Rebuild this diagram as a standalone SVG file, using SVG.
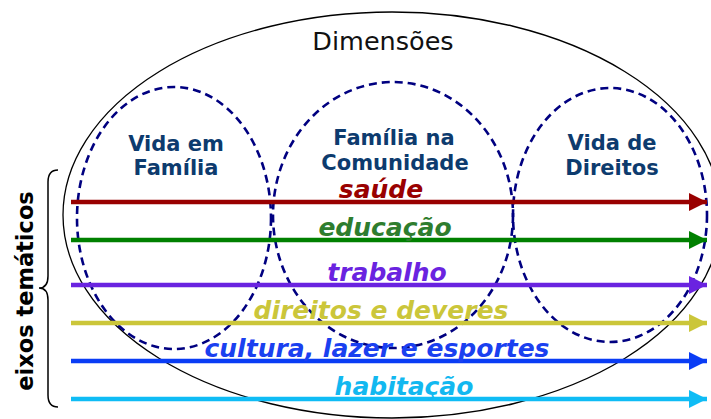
<svg xmlns="http://www.w3.org/2000/svg" width="711" height="419" viewBox="0 0 711 419">
<style>
.dim{font-family:"DejaVu Sans",Verdana,sans-serif;font-size:25.5px;fill:#111;}
.nl{font-family:"DejaVu Sans",Verdana,sans-serif;font-size:21px;font-weight:bold;fill:#0d3b6e;text-anchor:middle;}
.dash{fill:none;stroke:#000080;stroke-width:2.6;stroke-dasharray:8 5;}
.ax{stroke-width:4.5;fill:none;}
.lb{font-family:"DejaVu Sans",Verdana,sans-serif;font-size:25px;font-style:italic;font-weight:bold;text-anchor:middle;}
</style>
<defs>
<marker id="mr" viewBox="0 0 10 10" refX="10" refY="5" markerUnits="userSpaceOnUse" markerWidth="18" markerHeight="18" orient="auto"><path d="M0,0 L10,5 L0,10 Z" fill="#990000"/></marker>
<marker id="mg" viewBox="0 0 10 10" refX="10" refY="5" markerUnits="userSpaceOnUse" markerWidth="18" markerHeight="18" orient="auto"><path d="M0,0 L10,5 L0,10 Z" fill="#008000"/></marker>
<marker id="mp" viewBox="0 0 10 10" refX="10" refY="5" markerUnits="userSpaceOnUse" markerWidth="18" markerHeight="18" orient="auto"><path d="M0,0 L10,5 L0,10 Z" fill="#6a23e0"/></marker>
<marker id="my" viewBox="0 0 10 10" refX="10" refY="5" markerUnits="userSpaceOnUse" markerWidth="18" markerHeight="18" orient="auto"><path d="M0,0 L10,5 L0,10 Z" fill="#cbc63a"/></marker>
<marker id="mb" viewBox="0 0 10 10" refX="10" refY="5" markerUnits="userSpaceOnUse" markerWidth="18" markerHeight="18" orient="auto"><path d="M0,0 L10,5 L0,10 Z" fill="#0a3cf5"/></marker>
<marker id="mc" viewBox="0 0 10 10" refX="10" refY="5" markerUnits="userSpaceOnUse" markerWidth="18" markerHeight="18" orient="auto"><path d="M0,0 L10,5 L0,10 Z" fill="#0fbcf5"/></marker>
</defs>
<rect width="711" height="419" fill="#fff"/>
<g id="dimensoes">
<ellipse cx="392" cy="215" rx="329" ry="203" fill="none" stroke="#000" stroke-width="1.3"/>
<text class="dim" x="383" y="50" text-anchor="middle">Dimensões</text>
</g>
<g id="vida-em-familia">
<ellipse class="dash" cx="174" cy="218" rx="97" ry="131"/>
<text class="nl" x="176" y="151">Vida em</text>
<text class="nl" x="176" y="175">Família</text>
</g>
<g id="familia-na-comunidade">
<ellipse class="dash" cx="393" cy="215" rx="120" ry="133"/>
<text class="nl" x="394" y="145">Família na</text>
<text class="nl" x="395" y="170">Comunidade</text>
</g>
<g id="vida-de-direitos">
<ellipse class="dash" cx="610" cy="215" rx="97" ry="127"/>
<text class="nl" x="612" y="150">Vida de</text>
<text class="nl" x="612" y="175">Direitos</text>
</g>
<g id="eixos">
<path d="M58,170 Q48,170 48,182 L48,276 Q48,288 39,288 Q48,288 48,300 L48,395 Q48,407 58,407" fill="none" stroke="#000" stroke-width="1.5"/>
<text x="33" y="291" transform="rotate(-90 33 291)" text-anchor="middle" font-family="DejaVu Sans,Verdana,sans-serif" font-size="22.5" font-weight="bold" fill="#000">eixos temáticos</text>
</g>
<g id="connectors">
<line class="ax" x1="71" y1="202" x2="707" y2="202" stroke="#990000" marker-end="url(#mr)"/>
<line class="ax" x1="71" y1="240" x2="707" y2="240" stroke="#008000" marker-end="url(#mg)"/>
<line class="ax" x1="71" y1="285" x2="707" y2="285" stroke="#6a23e0" marker-end="url(#mp)"/>
<line class="ax" x1="71" y1="323" x2="707" y2="323" stroke="#cbc63a" marker-end="url(#my)"/>
<line class="ax" x1="71" y1="361" x2="707" y2="361" stroke="#0a3cf5" marker-end="url(#mb)"/>
<line class="ax" x1="71" y1="399" x2="707" y2="399" stroke="#0fbcf5" marker-end="url(#mc)"/>
</g>
<g id="labels">
<text class="lb" x="381" y="198" fill="#990000">saúde</text>
<text class="lb" x="385" y="236" fill="#2e7d2e">educação</text>
<text class="lb" x="387" y="281" fill="#6a23e0">trabalho</text>
<text class="lb" x="381" y="319" fill="#cbc63a" font-weight="normal">direitos e deveres</text>
<text class="lb" x="377" y="357" fill="#1a40f0">cultura, lazer e esportes</text>
<text class="lb" x="404" y="395" fill="#12b8f0">habitação</text>
</g>
</svg>
